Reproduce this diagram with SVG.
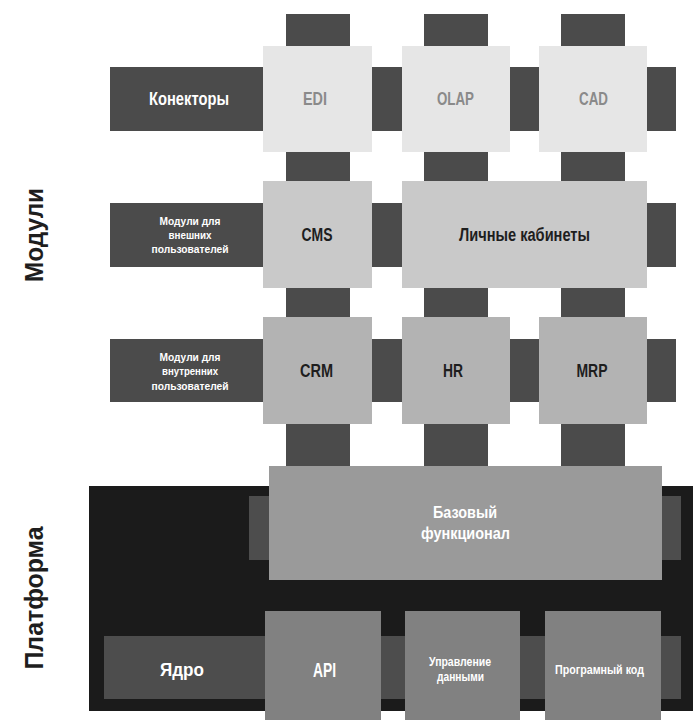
<svg xmlns="http://www.w3.org/2000/svg" width="693" height="720" viewBox="0 0 693 720">
<style>
.bar{fill:#4b4b4b}
.r1{fill:#e6e6e6}
.r2{fill:#c9c9c9}
.r3{fill:#b3b3b3}
.base{fill:#9a9a9a}
.core{fill:#818181}
.plat{fill:#1b1b1b}
.pbar{fill:#4d4d4d}
text{font-family:"Liberation Sans",Arial,sans-serif;font-weight:bold;text-anchor:middle;dominant-baseline:central}
.w{fill:#ffffff}
.g{fill:#8a8a8a}
.d{fill:#1e1e1e}
.big{font-size:18px}
.sm{font-size:10.5px}
.side{font-size:25px;fill:#1e1e1e}
</style>
<rect width="693" height="720" fill="#ffffff"/>
<g id="platform-bg">
<rect class="plat" x="89" y="486" width="604" height="225"/>
<rect class="pbar" x="249" y="496" width="432" height="64"/>
<rect class="pbar" x="104" y="636" width="577" height="63"/>
</g>
<g id="connectors">
<rect class="bar" x="286" y="14" width="64" height="32"/>
<rect class="bar" x="424" y="14" width="64" height="32"/>
<rect class="bar" x="561" y="14" width="64" height="32"/>
<rect class="bar" x="372" y="67" width="30" height="64"/>
<rect class="bar" x="510" y="67" width="29" height="64"/>
<rect class="bar" x="647" y="67" width="29" height="64"/>
<rect class="bar" x="286" y="152" width="64" height="29"/>
<rect class="bar" x="424" y="152" width="64" height="29"/>
<rect class="bar" x="561" y="152" width="64" height="29"/>
<rect class="bar" x="372" y="203" width="30" height="64"/>
<rect class="bar" x="647" y="203" width="29" height="64"/>
<rect class="bar" x="286" y="288" width="64" height="29"/>
<rect class="bar" x="424" y="288" width="64" height="29"/>
<rect class="bar" x="561" y="288" width="64" height="29"/>
<rect class="bar" x="372" y="339" width="30" height="63"/>
<rect class="bar" x="510" y="339" width="29" height="63"/>
<rect class="bar" x="647" y="339" width="29" height="63"/>
<rect class="bar" x="286" y="424" width="64" height="42"/>
<rect class="bar" x="424" y="424" width="64" height="42"/>
<rect class="bar" x="561" y="424" width="64" height="42"/>
</g>
<g id="label-modules"><text class="side" transform="translate(34,235) rotate(-90)" dominant-baseline="auto" textLength="94" lengthAdjust="spacingAndGlyphs">Модули</text></g>
<g id="label-platform"><text class="side" transform="translate(34,598) rotate(-90)" dominant-baseline="auto" textLength="143" lengthAdjust="spacingAndGlyphs">Платформа</text></g>
<g id="connectors-label"><rect class="bar" x="110" y="67" width="153" height="64"/><text class="w big" x="189" y="99" textLength="80" lengthAdjust="spacingAndGlyphs">Конекторы</text></g>
<g id="edi"><rect class="r1" x="263" y="46" width="109" height="106"/><text class="g big" x="315" y="99" textLength="24" lengthAdjust="spacingAndGlyphs">EDI</text></g>
<g id="olap"><rect class="r1" x="402" y="46" width="108" height="106"/><text class="g big" x="455.5" y="99" textLength="37" lengthAdjust="spacingAndGlyphs">OLAP</text></g>
<g id="cad"><rect class="r1" x="539" y="46" width="108" height="106"/><text class="g big" x="593.5" y="99" textLength="29" lengthAdjust="spacingAndGlyphs">CAD</text></g>
<g id="external-label"><rect class="bar" x="110" y="203" width="153" height="64"/><text class="w sm" x="190" y="221" textLength="61" lengthAdjust="spacingAndGlyphs">Модули для</text><text class="w sm" x="190" y="235" textLength="43" lengthAdjust="spacingAndGlyphs">внешних</text><text class="w sm" x="190" y="249" textLength="77" lengthAdjust="spacingAndGlyphs">пользователей</text></g>
<g id="cms"><rect class="r2" x="263" y="181" width="109" height="107"/><text class="d big" x="317" y="235" textLength="31" lengthAdjust="spacingAndGlyphs">CMS</text></g>
<g id="cabinets"><rect class="r2" x="402" y="181" width="245" height="107"/><text class="d big" x="524.5" y="235" textLength="131" lengthAdjust="spacingAndGlyphs">Личные кабинеты</text></g>
<g id="internal-label"><rect class="bar" x="110" y="339" width="153" height="63"/><text class="w sm" x="190" y="357" textLength="61" lengthAdjust="spacingAndGlyphs">Модули для</text><text class="w sm" x="190" y="371" textLength="56" lengthAdjust="spacingAndGlyphs">внутренних</text><text class="w sm" x="190" y="386" textLength="77" lengthAdjust="spacingAndGlyphs">пользователей</text></g>
<g id="crm"><rect class="r3" x="263" y="317" width="109" height="107"/><text class="d big" x="316.5" y="371" textLength="33" lengthAdjust="spacingAndGlyphs">CRM</text></g>
<g id="hr"><rect class="r3" x="402" y="317" width="108" height="107"/><text class="d big" x="453" y="371" textLength="20" lengthAdjust="spacingAndGlyphs">HR</text></g>
<g id="mrp"><rect class="r3" x="539" y="317" width="108" height="107"/><text class="d big" x="592" y="371" textLength="31" lengthAdjust="spacingAndGlyphs">MRP</text></g>
<g id="base"><rect class="base" x="269" y="466" width="393" height="114"/><text class="w" font-size="16" x="465" y="512" textLength="64" lengthAdjust="spacingAndGlyphs">Базовый</text><text class="w" font-size="16" x="465.5" y="533" textLength="89" lengthAdjust="spacingAndGlyphs">функционал</text></g>
<g id="core"><text class="w big" x="182" y="670" textLength="44" lengthAdjust="spacingAndGlyphs">Ядро</text></g>
<g id="api"><rect class="core" x="265" y="611" width="116" height="109"/><text class="w" font-size="20" x="324.5" y="670" textLength="23" lengthAdjust="spacingAndGlyphs">API</text></g>
<g id="data"><rect class="core" x="405" y="611" width="115" height="109"/><text class="w" font-size="12" x="460" y="662" textLength="62" lengthAdjust="spacingAndGlyphs">Управление</text><text class="w" font-size="12" x="460.5" y="677" textLength="47" lengthAdjust="spacingAndGlyphs">данными</text></g>
<g id="code"><rect class="core" x="545" y="611" width="116" height="109"/><text class="w" font-size="12" x="599.5" y="670" textLength="89" lengthAdjust="spacingAndGlyphs">Програмный код</text></g>
</svg>
